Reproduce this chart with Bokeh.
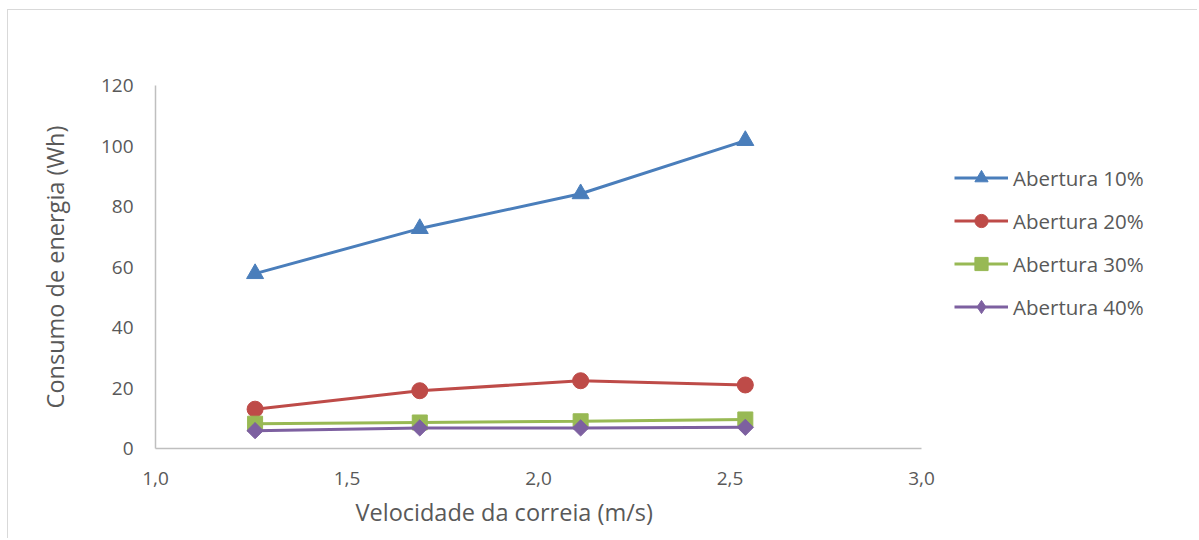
import numpy as np
from bokeh.plotting import figure
from bokeh.models import Range1d, FixedTicker, CustomJSTickFormatter, Legend, LegendItem, Title
from bokeh.embed import file_html
from bokeh.resources import INLINE

# ---- data ----
velocidade = [1.26, 1.69, 2.11, 2.54]
abertura_10 = [57.8, 72.7, 84.2, 101.8]
abertura_20 = [13.0, 19.1, 22.4, 21.0]
abertura_30 = [8.2, 8.6, 9.0, 9.6]
abertura_40 = [5.9, 6.8, 6.8, 7.0]
series_names = ["Abertura 10%", "Abertura 20%", "Abertura 30%", "Abertura 40%"]
x_ticks = [1.0, 1.5, 2.0, 2.5, 3.0]
y_ticks = [0, 20, 40, 60, 80, 100, 120]

FONT = "Open Sans"
TXT = "#595959"
AXIS = "#BFBFBF"

# frame spans x 1.0 .. 3.0 for the axis; extra room on the right holds the legend
X_END = 1.0 + (1188 - 155) / 383.0

p = figure(width=1190, height=529, output_backend="svg", toolbar_location=None,
           x_range=Range1d(1.0, X_END), y_range=Range1d(0, 120),
           min_border_left=147, min_border_right=10, min_border_top=75, min_border_bottom=91)
p.styles = {"margin-left": "7px", "margin-top": "9px",
            "border-left": "1px solid #D9D9D9", "border-top": "1px solid #D9D9D9"}
p.outline_line_color = None
p.xgrid.visible = False
p.ygrid.visible = False
p.background_fill_color = "white"
p.border_fill_color = "white"

for ax in (p.xaxis[0], p.yaxis[0]):
    ax.axis_line_color = AXIS
    ax.axis_line_width = 1.5
    ax.major_tick_line_color = None
    ax.minor_tick_line_color = None
    ax.major_tick_out = 0
    ax.major_tick_in = 0
    ax.major_label_text_font = FONT
    ax.major_label_text_font_size = "19px"
    ax.major_label_text_color = TXT

p.xaxis.bounds = (1.0, 3.0)
p.xaxis.ticker = FixedTicker(ticks=x_ticks)
p.yaxis.ticker = FixedTicker(ticks=y_ticks)
p.xaxis.formatter = CustomJSTickFormatter(code="return tick.toFixed(1).replace('.', ',')")
p.xaxis.major_label_standoff = 23
p.yaxis.major_label_standoff = 22

p.yaxis.axis_label = "Consumo de energia (Wh)"
p.yaxis.axis_label_text_font = FONT
p.yaxis.axis_label_text_font_size = "23.5px"
p.yaxis.axis_label_text_font_style = "normal"
p.yaxis.axis_label_text_color = TXT
p.yaxis.axis_label_standoff = 27

xtitle = Title(text="Velocidade da correia (m/s)", align="left", offset=200,
               text_font=FONT, text_font_size="23.5px", text_font_style="normal",
               text_color=TXT, standoff=12)
p.add_layout(xtitle, "below")

colors = ["#4A7EBB", "#BE4B48", "#98B954", "#7D60A0"]
values = [abertura_10, abertura_20, abertura_30, abertura_40]
markers = ["triangle", "circle", "square", "square"]
legend_markers = ["triangle", "circle", "square", "diamond"]
sizes = [17, 16, 15, 11.5]
angles = [0, 0, 0, np.pi / 4]

items = []
for name, ys, c, m, lm, s, a in zip(series_names, values, colors, markers, legend_markers, sizes, angles):
    r1 = p.line(velocidade, ys, line_color=c, line_width=3)
    r2 = p.scatter(velocidade, ys, marker=m, size=s, angle=a, fill_color=c, line_color=c)
    if lm != m:
        # legend-only marker (legend glyphs ignore the rotation angle)
        r2 = p.scatter([np.nan], [np.nan], marker=lm, size=s, fill_color=c, line_color=c)
    items.append(LegendItem(label=name, renderers=[r1, r2]))

legend = Legend(items=items, location=(799, 125))
legend.label_text_font = FONT
legend.label_text_font_size = "20.5px"
legend.label_text_color = TXT
legend.glyph_width = 54
legend.glyph_height = 33
legend.label_height = 33
legend.spacing = 10
legend.label_standoff = 5
legend.padding = 0
legend.margin = 0
legend.border_line_color = None
legend.background_fill_alpha = 0
p.add_layout(legend, "center")

open("out.html", "w").write(file_html(p, INLINE))
